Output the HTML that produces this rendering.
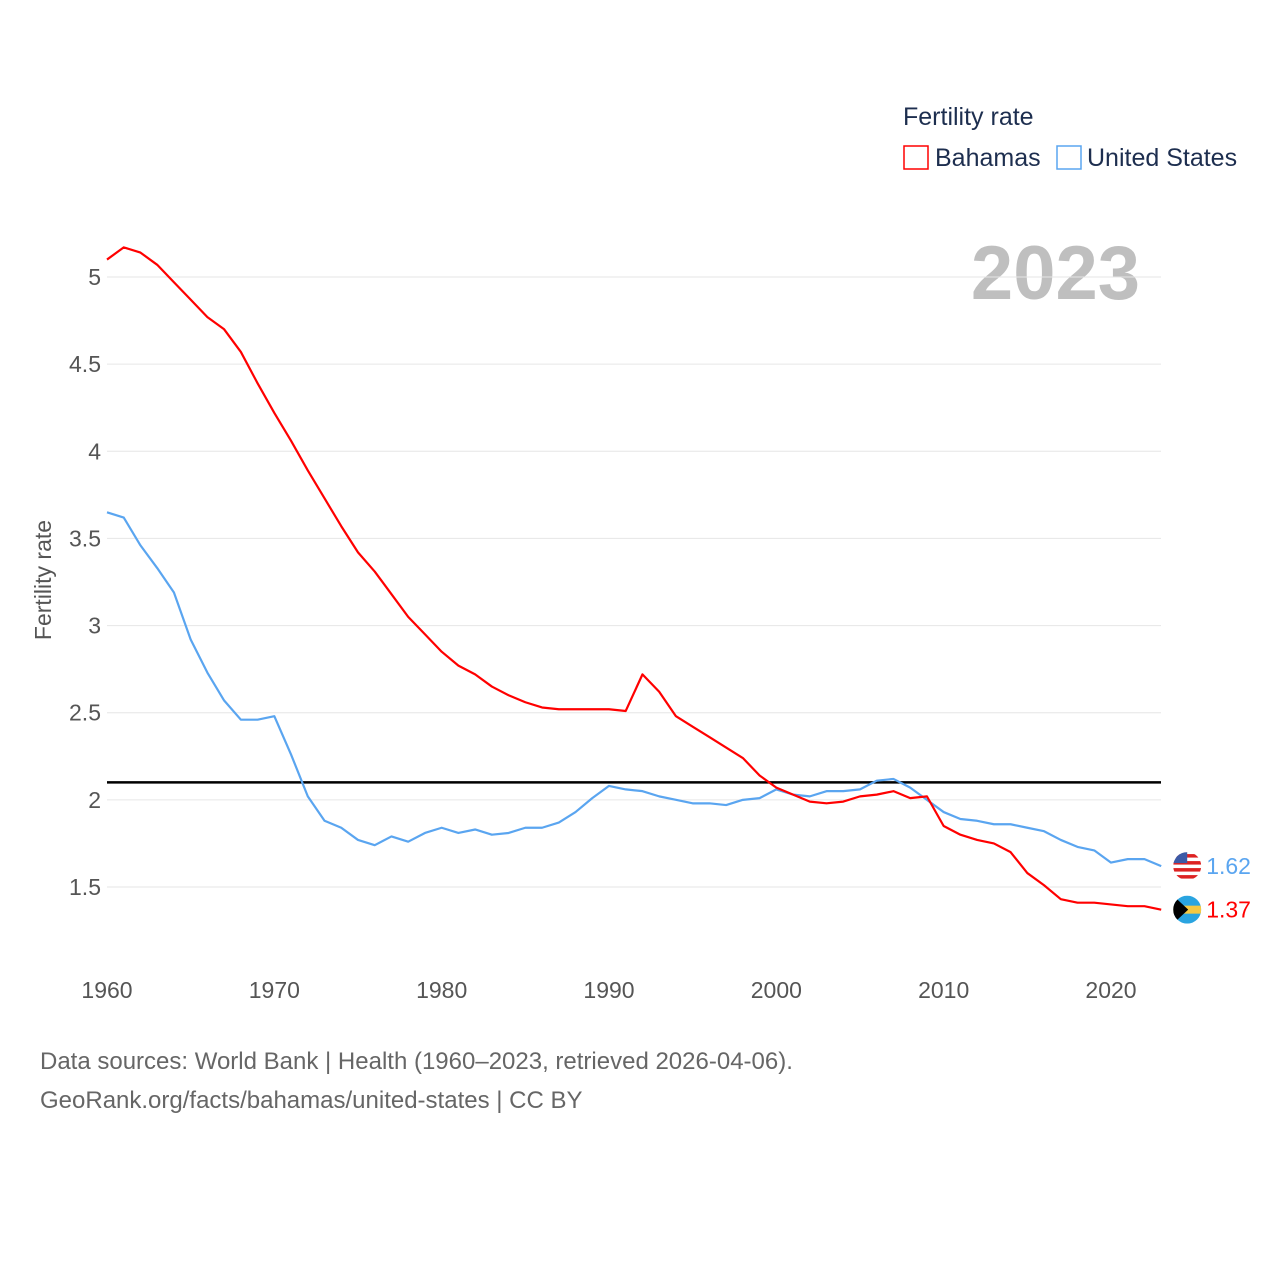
<!DOCTYPE html>
<html><head><meta charset="utf-8"><style>
body{margin:0;background:#fff;font-family:"Liberation Sans",sans-serif;}
svg text{font-family:"Liberation Sans",sans-serif;}
</style></head><body>
<svg id="chart" width="1280" height="1280" viewBox="0 0 1280 1280" xmlns="http://www.w3.org/2000/svg">
<rect width="1280" height="1280" fill="#fff"/>
<text x="903" y="125" font-size="25" fill="#1d2e4f">Fertility rate</text>
<rect x="904" y="146" width="24" height="23" fill="none" stroke="#ff0000" stroke-width="1.5"/>
<text x="935" y="166" font-size="25" fill="#1d2e4f">Bahamas</text>
<rect x="1057" y="146" width="24" height="23" fill="none" stroke="#5aa5f0" stroke-width="1.5"/>
<text x="1087" y="166" font-size="25" fill="#1d2e4f">United States</text>
<text x="1140" y="299" font-size="76" font-weight="bold" fill="#bfbfbf" text-anchor="end">2023</text>
<text transform="translate(51,580) rotate(-90)" font-size="23" fill="#555" text-anchor="middle">Fertility rate</text>
<g id="grid"></g><g id="series"></g>
<text x="40" y="1069" font-size="24" fill="#666">Data sources: World Bank | Health (1960–2023, retrieved 2026-04-06).</text>
<text x="40" y="1108" font-size="24" fill="#666">GeoRank.org/facts/bahamas/united-states | CC BY</text>
</svg>
<script>
const years=[];for(let y=1960;y<=2023;y++)years.push(y);
const bahamas=[5.10,5.17,5.14,5.07,4.97,4.87,4.77,4.70,4.57,4.39,4.22,4.06,3.89,3.73,3.57,3.42,3.31,3.18,3.05,2.95,2.85,2.77,2.72,2.65,2.60,2.56,2.53,2.52,2.52,2.52,2.52,2.51,2.72,2.62,2.48,2.42,2.36,2.30,2.24,2.14,2.07,2.03,1.99,1.98,1.99,2.02,2.03,2.05,2.01,2.02,1.85,1.80,1.77,1.75,1.70,1.58,1.51,1.43,1.41,1.41,1.40,1.39,1.39,1.37];
const unitedStates=[3.65,3.62,3.46,3.33,3.19,2.92,2.73,2.57,2.46,2.46,2.48,2.26,2.02,1.88,1.84,1.77,1.74,1.79,1.76,1.81,1.84,1.81,1.83,1.80,1.81,1.84,1.84,1.87,1.93,2.01,2.08,2.06,2.05,2.02,2.00,1.98,1.98,1.97,2.00,2.01,2.06,2.03,2.02,2.05,2.05,2.06,2.11,2.12,2.07,2.00,1.93,1.89,1.88,1.86,1.86,1.84,1.82,1.77,1.73,1.71,1.64,1.66,1.66,1.62];
const yTicks=[1.5,2,2.5,3,3.5,4,4.5,5];
const xTicks=[1960,1970,1980,1990,2000,2010,2020];
const refValue=2.1;
const NS="http://www.w3.org/2000/svg";
const xs=y=>107+(y-1960)*(1111-107)/60;
const ys=v=>887-(v-1.5)*(610/3.5);
const grid=document.getElementById('grid'),ser=document.getElementById('series');
function mk(tag,attrs,parent){const e=document.createElementNS(NS,tag);for(const k in attrs)e.setAttribute(k,attrs[k]);parent.appendChild(e);return e;}
yTicks.forEach(t=>{
 const l=mk('line',{x1:107,x2:1161,y1:ys(t),y2:ys(t),stroke:'#e6e6e6','stroke-width':1},grid);
 
 
 const tx=mk('text',{x:101,y:ys(t)+8,'font-size':23,fill:'#555','text-anchor':'end'},grid);tx.textContent=String(t);
 
 
});
xTicks.forEach(t=>{
 const tx=mk('text',{x:xs(t),y:998,'font-size':23,fill:'#555','text-anchor':'middle'},grid);tx.textContent=String(t);
 
 
});
const ref=mk('line',{x1:107,x2:1161,y1:ys(refValue),y2:ys(refValue),stroke:'#000','stroke-width':2.5},ser);


function line(vals,color,name){
 const p=mk('polyline',{points:vals.map((v,i)=>xs(years[i])+','+ys(v)).join(' '),fill:'none',stroke:color,'stroke-width':2.2,'stroke-linejoin':'round'},ser);
 
 
}
line(unitedStates,'#5aa5f0','us-line');
line(bahamas,'#ff0000','bahamas-line');
function endLabel(vals,color,name,flag){
 const v=vals[vals.length-1],x=xs(2023),y=ys(v);
 const g=mk('g',{},ser);
 
 
 const cid='clip-'+flag;
 const cp=mk('clipPath',{id:cid},g);mk('circle',{cx:x+26,cy:y,r:14},cp);
 const f=mk('g',{'clip-path':'url(#'+cid+')'},g);
 if(flag==='us'){
  mk('rect',{x:x+12,y:y-14,width:28,height:28,fill:'#fff'},f);
  for(let i=0;i<4;i++)mk('rect',{x:x+12,y:y-12+i*7,width:28,height:3.5,fill:'#d22'},f);
  mk('rect',{x:x+12,y:y-14,width:14,height:11,fill:'#3c5aa6'},f);
 }else{
  mk('rect',{x:x+12,y:y-14,width:28,height:28,fill:'#2aa4e0'},f);
  mk('rect',{x:x+12,y:y-4,width:28,height:8,fill:'#f5c842'},f);
  mk('path',{d:`M${x+12} ${y-14} L${x+27} ${y} L${x+12} ${y+14}Z`,fill:'#000'},f);
 }
 const t=mk('text',{x:x+45,y:y+8,'font-size':23,fill:color},g);t.textContent=v.toFixed(2);
}
endLabel(unitedStates,'#5aa5f0','us-end-label','us');
endLabel(bahamas,'#ff0000','bahamas-end-label','bs');
</script>
</body></html>
